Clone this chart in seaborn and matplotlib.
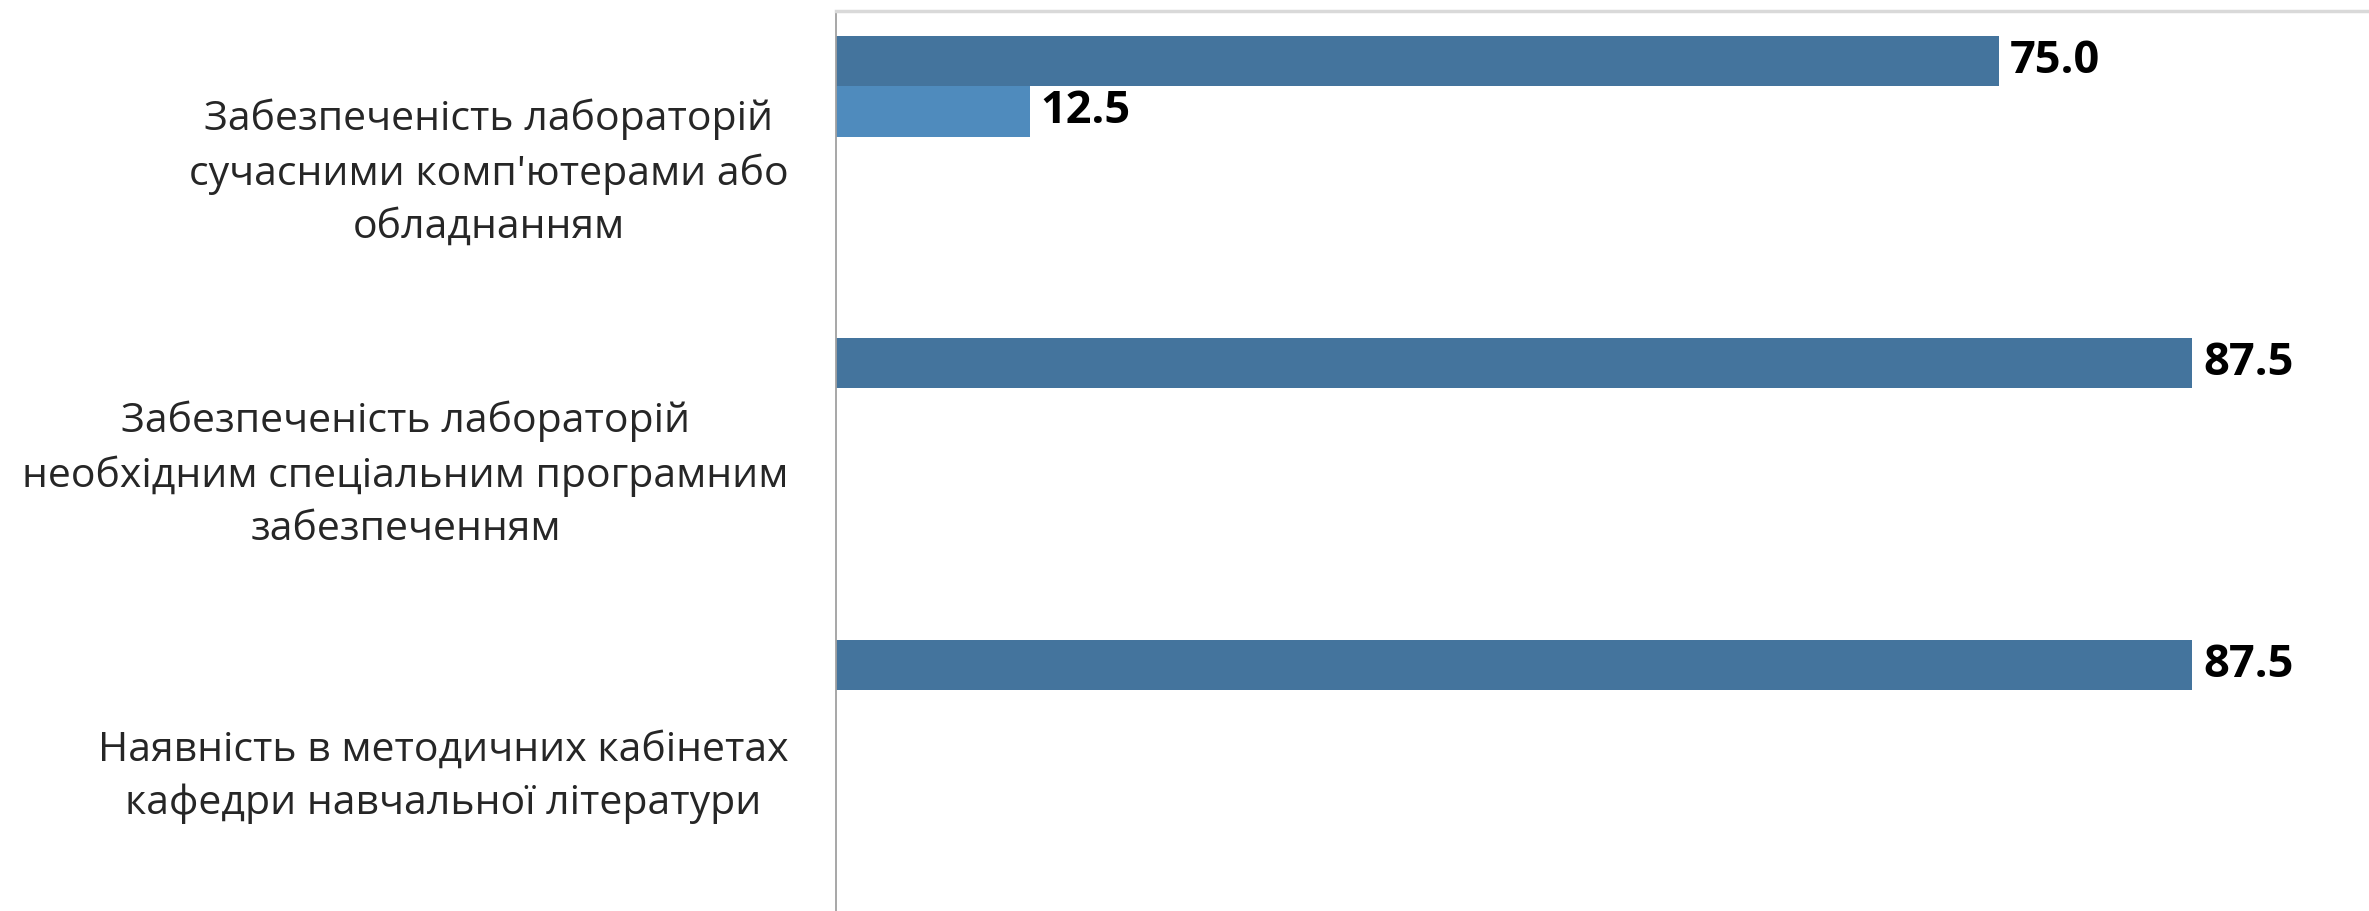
import matplotlib
matplotlib.use("Agg")
import matplotlib.pyplot as plt
import seaborn as sns
import pandas as pd

categories = [
    "Забезпеченість лабораторій\nсучасними комп'ютерами або\nобладнанням",
    "Забезпеченість лабораторій\nнеобхідним спеціальним програмним\nзабезпеченням",
    "Наявність в методичних кабінетах\nкафедри навчальної літератури",
]
series_names = ["Ряд 1", "Ряд 2", "Ряд 3", "Ряд 4", "Ряд 5"]
series_values = [
    [75.0, 87.5, 87.5],
    [12.5, 0.0, 0.0],
    [0.0, 0.0, 0.0],
    [0.0, 0.0, 0.0],
    [0.0, 0.0, 0.0],
]
series_colors = ["#44749D", "#4F8BBD", "#7FA9CF", "#A7C4DF", "#C9DBEC"]

rows = []
for name, vals in zip(series_names, series_values):
    for cat, v in zip(categories, vals):
        rows.append({"category": cat, "series": name, "value": v})
df = pd.DataFrame(rows)

sns.set_style("white")
plt.rcParams['font.family'] = ['Open Sans', 'DejaVu Sans']

fig = plt.figure(figsize=(23.69, 9.11), dpi=100)
ax = fig.add_axes([836 / 2369, 1 - 917 / 911, 1 - 836 / 2369, (917 - 11) / 911])

sns.barplot(data=df, y="category", x="value", hue="series", order=categories,
            hue_order=series_names, palette=series_colors, orient="h",
            width=0.836, ax=ax, legend=False, linewidth=0, saturation=1)

for cont in ax.containers:
    labels = [f"{v:.1f}" if v > 0 else "" for v in cont.datavalues]
    ax.bar_label(cont, labels=labels, padding=8, fontsize=32.5, fontweight="bold",
                 color="black")

ax.set_xlim(0, 98.9)
ax.set_xlabel("")
ax.set_ylabel("")
ax.set_xticks([])
ax.tick_params(axis="y", length=0, pad=34, labelsize=29.5)
for lbl in ax.get_yticklabels():
    lbl.set_multialignment("center")
    lbl.set_linespacing(1.42)

for s in ["right", "bottom"]:
    ax.spines[s].set_visible(False)
ax.spines["left"].set_color("#A0A0A0")
ax.spines["left"].set_linewidth(1.3)
ax.spines["top"].set_color("#D9D9D9")
ax.spines["top"].set_linewidth(2.5)

fig.savefig("out.png", dpi=100)
